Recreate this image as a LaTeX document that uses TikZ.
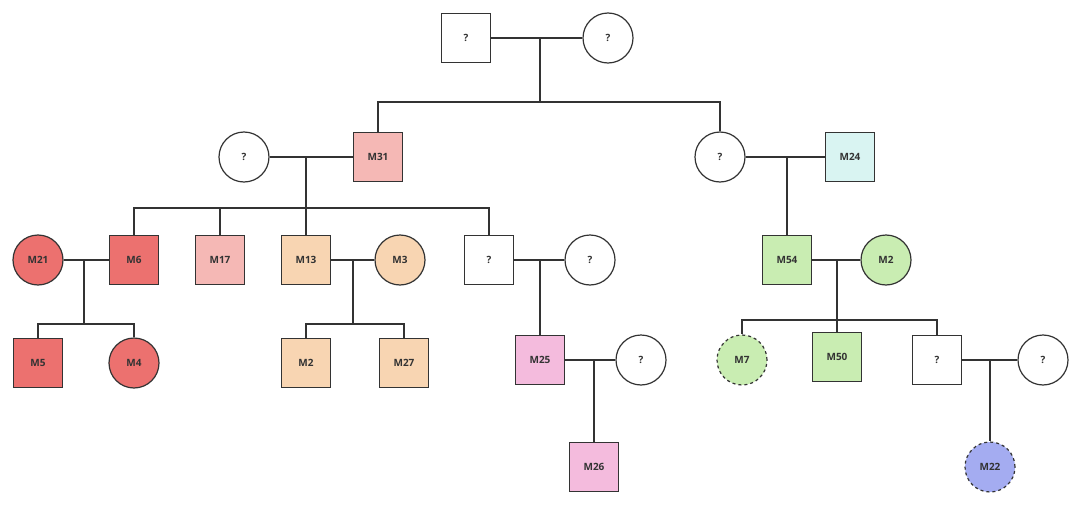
\documentclass[tikz,border=0pt]{standalone}
\usepackage{fontspec}
\setmainfont{Open Sans}
\begin{document}
\begin{tikzpicture}[x=1pt,y=-1pt,
 base/.style={draw=black!80,line width=1.2pt,minimum size=50pt,inner sep=0pt,font=\fontsize{10}{12}\selectfont\bfseries,text=black!80},
 sq/.style={base,rectangle,minimum size=49pt},
 ci/.style={base,circle},
 ln/.style={draw=black!80,line width=1.2pt}]
\useasboundingbox (0,0) rectangle (1080,506);
\definecolor{cr}{HTML}{EC716F}\definecolor{cp}{HTML}{F5B8B5}\definecolor{co}{HTML}{F8D5B2}
\definecolor{cm}{HTML}{F4BBDD}\definecolor{cc}{HTML}{D9F4F2}\definecolor{cg}{HTML}{C9EDB2}\definecolor{cb}{HTML}{A4ACF1}
\node[sq,fill=white] (a1) at (466,38) {?};
\node[ci,fill=white] (a2) at (608,38) {?};
\node[ci,fill=white] (b1) at (244,157) {?};
\node[sq,fill=cp] (m31) at (378,157) {M31};
\node[ci,fill=white] (b2) at (720,157) {?};
\node[sq,fill=cc] (m24) at (850,157) {M24};
\node[ci,fill=cr] (m21) at (38,260) {M21};
\node[sq,fill=cr] (m6) at (134,260) {M6};
\node[sq,fill=cp] (m17) at (220,260) {M17};
\node[sq,fill=co] (m13) at (306,260) {M13};
\node[ci,fill=co] (m3) at (400,260) {M3};
\node[sq,fill=white] (c1) at (489,260) {?};
\node[ci,fill=white] (c2) at (590,260) {?};
\node[sq,fill=cg] (m54) at (787,260) {M54};
\node[ci,fill=cg] (m2c) at (886,260) {M2};
\node[sq,fill=cr] (m5) at (38,363) {M5};
\node[ci,fill=cr] (m4) at (134,363) {M4};
\node[sq,fill=co] (m2) at (306,363) {M2};
\node[sq,fill=co] (m27) at (404,363) {M27};
\node[sq,fill=cm] (m25) at (540,360) {M25};
\node[ci,fill=white] (d1) at (641,360) {?};
\node[ci,fill=cg,dashed] (m7) at (742,360) {M7};
\node[sq,fill=cg] (m50) at (837,357) {M50};
\node[sq,fill=white] (d2) at (937,360) {?};
\node[ci,fill=white] (d3) at (1043,360) {?};
\node[sq,fill=cm] (m26) at (594,467) {M26};
\node[ci,fill=cb,dashed] (m22) at (990,467) {M22};
% couples
\draw[ln] (a1) -- (a2); \draw[ln] (b1) -- (m31); \draw[ln] (b2) -- (m24);
\draw[ln] (m21) -- (m6); \draw[ln] (m13) -- (m3); \draw[ln] (c1) -- (c2);
\draw[ln] (m54) -- (m2c); \draw[ln] (m25) -- (d1); \draw[ln] (d2) -- (d3);
% descents
\draw[ln] (540,38) -- (540,102); \draw[ln] (m31.north) |- (540,102) -| (b2.north);
\draw[ln] (306,157) -- (306,208); \draw[ln] (m6.north) |- (c1.north |- 0,208) -- (c1.north);
\draw[ln] (m17.north) -- (220,208); \draw[ln] (m13.north) -- (306,208);
\draw[ln] (787,157) -- (m54.north);
\draw[ln] (84,260) -- (84,324); \draw[ln] (m5.north) |- (84,324) -| (m4.north);
\draw[ln] (353,260) -- (353,324); \draw[ln] (m2.north) |- (353,324) -| (m27.north);
\draw[ln] (540,260) -- (m25.north);
\draw[ln] (837,260) -- (m50.north); \draw[ln] (m7.north) |- (837,320) -| (d2.north);
\draw[ln] (594,360) -- (m26.north);
\draw[ln] (990,360) -- (m22.north);
\end{tikzpicture}
\end{document}
